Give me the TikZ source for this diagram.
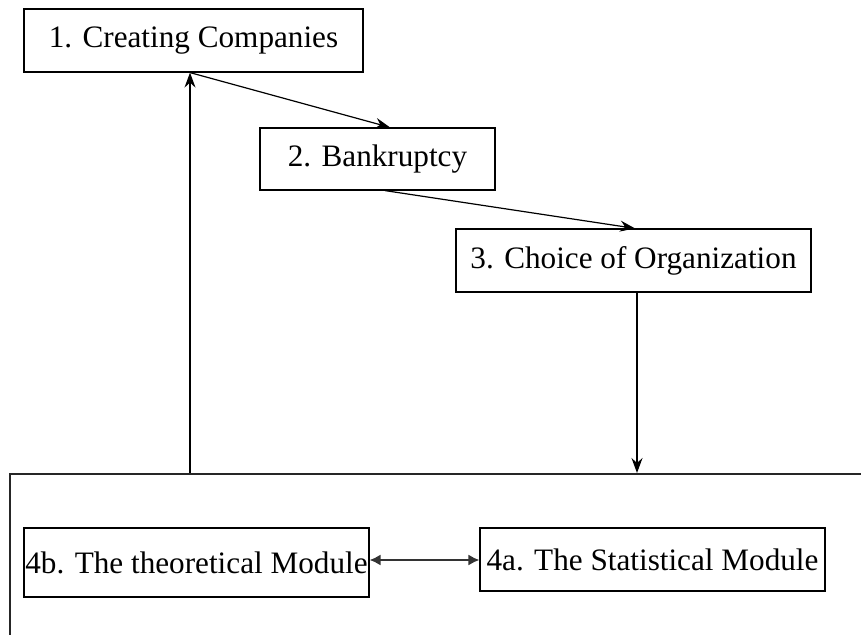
\documentclass[tikz,border=0pt]{standalone}
\usepackage{fontspec}
\setmainfont{Liberation Serif}
\usetikzlibrary{positioning,arrows.meta}

\tikzset{
  box/.style={draw, line width=0.6pt, inner sep=0pt, font=\fontsize{15.6}{18}\selectfont},
  flow/.style={-{Stealth[length=7.5pt,width=5.5pt,inset=2.5pt]}, line width=0.6pt},
  both/.style={{Latex[length=5.5pt,width=5.5pt]}-{Latex[length=5.5pt,width=5.5pt]}, line width=0.8pt, black!80}
}

\begin{document}
\begin{tikzpicture}[x=0.5pt,y=-0.5pt]
  \useasboundingbox (0,0) rectangle (861,635);
  \clip (0,0) rectangle (861,635);

  % steps
  \node[box, minimum width=169.5pt, minimum height=31.5pt] (create) at (193.5,40.5) {1. Creating Companies};
  \node[box, minimum width=117.5pt, minimum height=31pt] (bankrupt) at (377.5,159) {2. Bankruptcy};
  \node[box, minimum width=177.5pt, minimum height=31.5pt] (choice) at (633.5,260.5) {3. Choice of Organization};

  % module frame
  \node[draw, line width=0.9pt, black!85, minimum width=450pt, minimum height=100pt, anchor=north west] (frame) at (9,473) {};
  \node[box, minimum width=172.5pt, minimum height=34.5pt] (theory) at (196.5,562.5) {4b. The theoretical Module};
  \node[box, minimum width=172.5pt, minimum height=31.5pt] (stat) at (652.5,559.5) {4a. The Statistical Module};

  % connectors
  \draw[flow] ([xshift=-1.75pt]create.south) -- ([xshift=6.25pt]bankrupt.north);
  \draw[flow] ([xshift=3.75pt]bankrupt.south) -- ([xshift=0.75pt]choice.north);
  \draw[flow] ([xshift=1.75pt]choice.south) -- ([xshift=1.75pt]choice.south |- frame.north);
  \draw[flow] ([xshift=-1.75pt]create.south |- frame.north) -- ([xshift=-1.75pt]create.south);
  \draw[both] (theory.east |- 0,560) -- (stat.west |- 0,560);
\end{tikzpicture}
\end{document}
